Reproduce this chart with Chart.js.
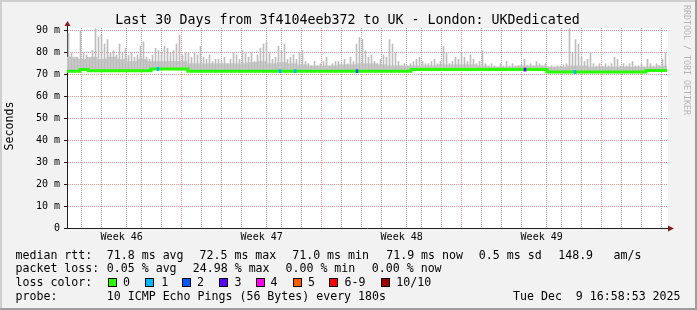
<!DOCTYPE html>
<html>
<head>
<meta charset="utf-8">
<title>Last 30 Days - UK London</title>
<script src="https://cdn.jsdelivr.net/npm/chart.js@4.4.1/dist/chart.umd.min.js"></script>
<style>
  body { margin: 0; background: #f2f2f2; }
  canvas { display: block; }
</style>
</head>
<body>
<canvas id="pingChart" width="697" height="310"></canvas>
<script>
// time axis is in hours since the start of the 30 day window
const medianHours = [0, 15.6, 25.2, 100.8, 145.2, 412.8, 576, 694.8, 720];
const medianValues = [71.5, 72.3, 71.8, 72.6, 71.6, 72.3, 71.2, 71.9, 71.9];

// top of the smoke spikes (ms), one value per 3.6 h slot
const smokeHigh = [
  89, 80, 77, 78, 90, 80, 79, 77, 81, 91,
  87, 88, 84, 86, 80, 81, 79, 84, 80, 82,
  79, 80, 78, 79, 83, 85, 78, 77, 79, 82,
  81, 80, 83, 82, 80, 81, 84, 88, 79, 80,
  80, 78, 80, 79, 83, 78, 77, 79, 76, 77,
  77, 76, 78, 75, 77, 80, 79, 77, 81, 80,
  78, 80, 76, 79, 82, 84, 85, 80, 77, 78,
  83, 81, 84, 77, 78, 79, 77, 80, 81, 76,
  75, 74, 76, 74, 75, 76, 78, 74, 75, 76,
  76, 75, 77, 75, 78, 76, 84, 87, 86, 81,
  78, 79, 76, 75, 77, 79, 78, 86, 84, 80,
  76, 74, 75, 74, 75, 76, 77, 78, 76, 75,
  75, 76, 77, 75, 76, 83, 80, 75, 76, 78,
  77, 80, 78, 76, 79, 77, 75, 76, 81, 75,
  74, 75, 74, 73.5, 75, 74, 76, 74, 75, 74,
  74, 75, 77, 74, 75, 74, 76, 75, 74, 75,
  73.5, 74, 73.5, 74, 74, 74.5, 75, 91, 80, 86,
  84, 78, 76, 77, 80, 75, 74, 75, 74, 75,
  74, 75, 78, 77, 74, 75, 74, 75, 76, 74,
  74, 75, 73.5, 77, 75, 74, 75, 74, 77, 80
];

// dense part of the smoke (ms), one value per 12 h slot
const smokeBase = [
  78, 77, 78, 77, 78, 77, 76, 77, 76, 76,
  76, 76, 75, 75, 75, 75, 75, 75, 75.5, 76,
  75, 75.5, 75, 74.5, 74, 74, 74, 74.5, 74.5, 75,
  75, 74.5, 74, 74, 74, 74, 74, 74.5, 74.5, 74.5,
  74.5, 74, 73.5, 73.5, 73.5, 74, 74, 74, 73.5, 73.5,
  74, 74, 73.5, 73.5, 73.5, 73.5, 73.5, 73.5, 73.5, 74
];

// short stretches with some packet loss
const lossHours = [109.2, 255.6, 273.6, 348, 549.6, 609.6];
const lossColors = ['#00b8ff', '#00b8ff', '#00b8ff', '#0059ff', '#5e00ff', '#00b8ff'];

const yTicks = [0, 5, 10, 15, 20, 25, 30, 35, 40, 45, 50, 55, 60, 65, 70, 75, 80, 85, 90];
const dayStartHours = [5.6, 29.6, 53.6, 77.6, 101.6, 125.6, 149.6, 173.6, 197.6, 221.6,
  245.6, 269.6, 293.6, 317.6, 341.6, 365.6, 389.6, 413.6, 437.6, 461.6,
  485.6, 509.6, 533.6, 557.6, 581.6, 605.6, 629.6, 653.6, 677.6, 701.6];
const weekStartHours = [149.6, 317.6, 485.6, 653.6];
const weekLabels = ['Week 46', 'Week 47', 'Week 48', 'Week 49'];
const weekLabelHours = [65.6, 233.6, 401.6, 569.6];

const titleText = 'Last 30 Days from 3f4104eeb372 to UK - London: UKDedicated';
const rttStats = ['71.8 ms avg', '72.5 ms max', '71.0 ms min', '71.9 ms now', '0.5 ms sd', '148.9', 'am/s'];
const lossStats = ['0.05 % avg', '24.98 % max', '0.00 % min', '0.00 % now'];
const lossLegend = ['0', '1', '2', '3', '4', '5', '6-9', '10/10'];
const lossLegendColors = ['#26ff00', '#00b8ff', '#0059ff', '#5e00ff', '#ff00ea', '#ff5e00', '#ff0000', '#a10000'];
const probeText = '10 ICMP Echo Pings (56 Bytes) every 180s';
const stampText = 'Tue Dec  9 16:58:53 2025';

const mono = '"DejaVu Sans Mono"';
const gridGrey = 'rgba(143,143,143,0.75)';
const gridRed = 'rgba(222,79,79,0.6)';

function medianAt(h) {
  let v = medianValues[0];
  for (let i = 0; i < medianHours.length; i++) {
    if (medianHours[i] <= h) v = medianValues[i];
  }
  return v;
}

const smokeData = smokeHigh.map((hi, i) => {
  const h = 1.8 + 3.6 * i;
  return { x: h, y: [medianAt(h), hi] };
});
const baseData = smokeBase.map((hi, i) => {
  const h = 6 + 12 * i;
  return { x: h, y: [medianAt(h), hi] };
});
const medianData = medianHours.map((h, i) => ({ x: h, y: medianValues[i] }));
const lossData = lossHours.map(h => ({ x: h, y: [medianAt(h) - 0.7, medianAt(h) + 0.7] }));

const rrdFrame = {
  id: 'rrdFrame',
  beforeDraw(chart) {
    const { ctx, chartArea: a, width, height } = chart;
    ctx.save();
    ctx.fillStyle = '#f2f2f2';
    ctx.fillRect(0, 0, width, height);
    ctx.fillStyle = '#cfcfcf';
    ctx.fillRect(0, 0, width, 2);
    ctx.fillRect(0, 0, 2, height);
    ctx.fillStyle = '#9e9e9e';
    ctx.fillRect(0, height - 2, width, 2);
    ctx.fillRect(width - 2, 0, 2, height);
    ctx.fillStyle = '#ffffff';
    ctx.fillRect(a.left, a.top, a.right - a.left + 1, a.bottom - a.top);
    ctx.restore();
  },
  afterDraw(chart) {
    const { ctx, chartArea: a } = chart;
    ctx.save();

    // axis arrows
    ctx.strokeStyle = '#1f1f1f';
    ctx.lineWidth = 1;
    ctx.beginPath();
    ctx.moveTo(a.left + 0.5, a.top);
    ctx.lineTo(a.left + 0.5, a.top - 3);
    ctx.moveTo(a.right, a.bottom + 0.5);
    ctx.lineTo(a.right + 2, a.bottom + 0.5);
    ctx.stroke();
    ctx.fillStyle = '#801f1f';
    ctx.beginPath();
    ctx.moveTo(a.left + 0.5, a.top - 7);
    ctx.lineTo(a.left - 2.5, a.top - 2);
    ctx.lineTo(a.left + 3.5, a.top - 2);
    ctx.closePath();
    ctx.fill();
    ctx.beginPath();
    ctx.moveTo(a.right + 7, a.bottom + 0.5);
    ctx.lineTo(a.right + 1, a.bottom - 2.5);
    ctx.lineTo(a.right + 1, a.bottom + 3.5);
    ctx.closePath();
    ctx.fill();

    // title
    ctx.fillStyle = '#000';
    ctx.font = '13.3px ' + mono;
    ctx.textAlign = 'center';
    ctx.textBaseline = 'alphabetic';
    ctx.fillText(titleText, 347.5, 24);

    // vertical axis label
    ctx.font = '11.6px ' + mono;
    ctx.save();
    ctx.translate(13, 126);
    ctx.rotate(-Math.PI / 2);
    ctx.fillText('Seconds', 0, 0);
    ctx.restore();

    // watermark
    ctx.save();
    ctx.font = '8.3px ' + mono;
    ctx.fillStyle = '#b4b4b4';
    ctx.textAlign = 'left';
    ctx.translate(684, 5);
    ctx.rotate(Math.PI / 2);
    ctx.fillText('RRDTOOL / TOBI OETIKER', 0, 0);
    ctx.restore();

    // legend
    ctx.textAlign = 'left';
    ctx.font = '11.6px ' + mono;
    const rows = [258.5, 272.2, 285.9, 299.6];
    ctx.fillText('median rtt:', 15.5, rows[0]);
    const rttX = [106.8, 199.5, 292.2, 386.2, 478.8, 558.2, 613.5];
    rttStats.forEach((s, i) => ctx.fillText(s, rttX[i], rows[0]));

    ctx.fillText('packet loss:', 15.5, rows[1]);
    const lossX = [106.8, 192.8, 285.5, 371.8];
    lossStats.forEach((s, i) => ctx.fillText(s, lossX[i], rows[1]));

    ctx.fillText('loss color:', 15.5, rows[2]);
    const swatchX = [109, 146, 182.5, 219.5, 257, 293.5, 330, 382];
    const swatchLabelX = [123, 161.3, 197, 234.6, 270.4, 308, 344.6, 396.3];
    lossLegend.forEach((s, i) => {
      ctx.fillStyle = lossLegendColors[i];
      ctx.fillRect(Math.round(swatchX[i]), 279, 7, 7);
      ctx.strokeStyle = '#000';
      ctx.strokeRect(Math.round(swatchX[i]) - 0.5, 278.5, 8, 8);
      ctx.fillStyle = '#000';
      ctx.fillText(s, swatchLabelX[i], rows[2]);
    });

    ctx.fillText('probe:', 15.5, rows[3]);
    ctx.fillText(probeText, 106.8, rows[3]);
    ctx.fillText(stampText, 513, rows[3]);
    ctx.restore();
  }
};

const pingChart = new Chart(document.getElementById('pingChart'), {
  type: 'bar',
  data: {
    datasets: [
      {
        type: 'bar',
        label: 'smoke base',
        data: baseData,
        backgroundColor: '#cbcbcb',
        barThickness: 10,
        order: 4
      },
      {
        type: 'bar',
        label: 'smoke',
        data: smokeData,
        backgroundColor: '#bdbdbd',
        barThickness: 1,
        order: 3
      },
      {
        type: 'line',
        label: 'median rtt',
        data: medianData,
        borderColor: '#26ff00',
        borderWidth: 3,
        stepped: true,
        pointRadius: 0,
        fill: false,
        order: 2
      },
      {
        type: 'bar',
        label: 'loss',
        data: lossData,
        backgroundColor: lossColors,
        barThickness: 2,
        order: 1
      }
    ]
  },
  options: {
    responsive: false,
    animation: false,
    devicePixelRatio: 1,
    layout: { padding: { top: 28, right: 30, left: 0, bottom: 0 } },
    datasets: { bar: { grouped: false } },
    plugins: { legend: { display: false }, tooltip: { enabled: false }, title: { display: false } },
    scales: {
      x: {
        type: 'linear',
        min: 0,
        max: 720,
        offset: false,
        afterBuildTicks: s => {
          s.ticks = dayStartHours.concat(weekLabelHours).sort((p, q) => p - q).map(v => ({ value: v }));
        },
        afterFit: s => { s.height = 82; },
        ticks: {
          autoSkip: false,
          maxRotation: 0,
          padding: 1,
          color: '#000',
          font: { family: mono, size: 10 },
          callback: v => {
            const i = weekLabelHours.indexOf(v);
            return i >= 0 ? weekLabels[i] : '';
          }
        },
        grid: {
          color: c => {
            const v = c.tick ? c.tick.value : -1;
            if (weekLabelHours.includes(v)) return 'rgba(0,0,0,0)';
            return weekStartHours.includes(v) ? gridRed : gridGrey;
          },
          tickLength: 2,
          tickColor: 'rgba(0,0,0,0)'
        },
        border: { display: true, color: '#1f1f1f', width: 1, dash: [1, 1] }
      },
      y: {
        min: 0,
        max: 91.3,
        afterBuildTicks: s => { s.ticks = yTicks.map(v => ({ value: v })); },
        afterFit: s => { s.width = 67; },
        ticks: {
          padding: 4,
          color: '#000',
          font: { family: mono, size: 10 },
          callback: v => (v % 10 ? '' : (v ? v + ' m' : '0'))
        },
        grid: {
          color: c => (c.tick && c.tick.value % 10 === 0 ? gridRed : gridGrey),
          tickLength: 3,
          tickColor: c => (c.tick && c.tick.value % 10 === 0 ? '#1f1f1f' : 'rgba(0,0,0,0)')
        },
        border: { display: true, color: '#1f1f1f', width: 1, dash: [1, 1] }
      }
    }
  },
  plugins: [rrdFrame]
});
</script>
</body>
</html>
